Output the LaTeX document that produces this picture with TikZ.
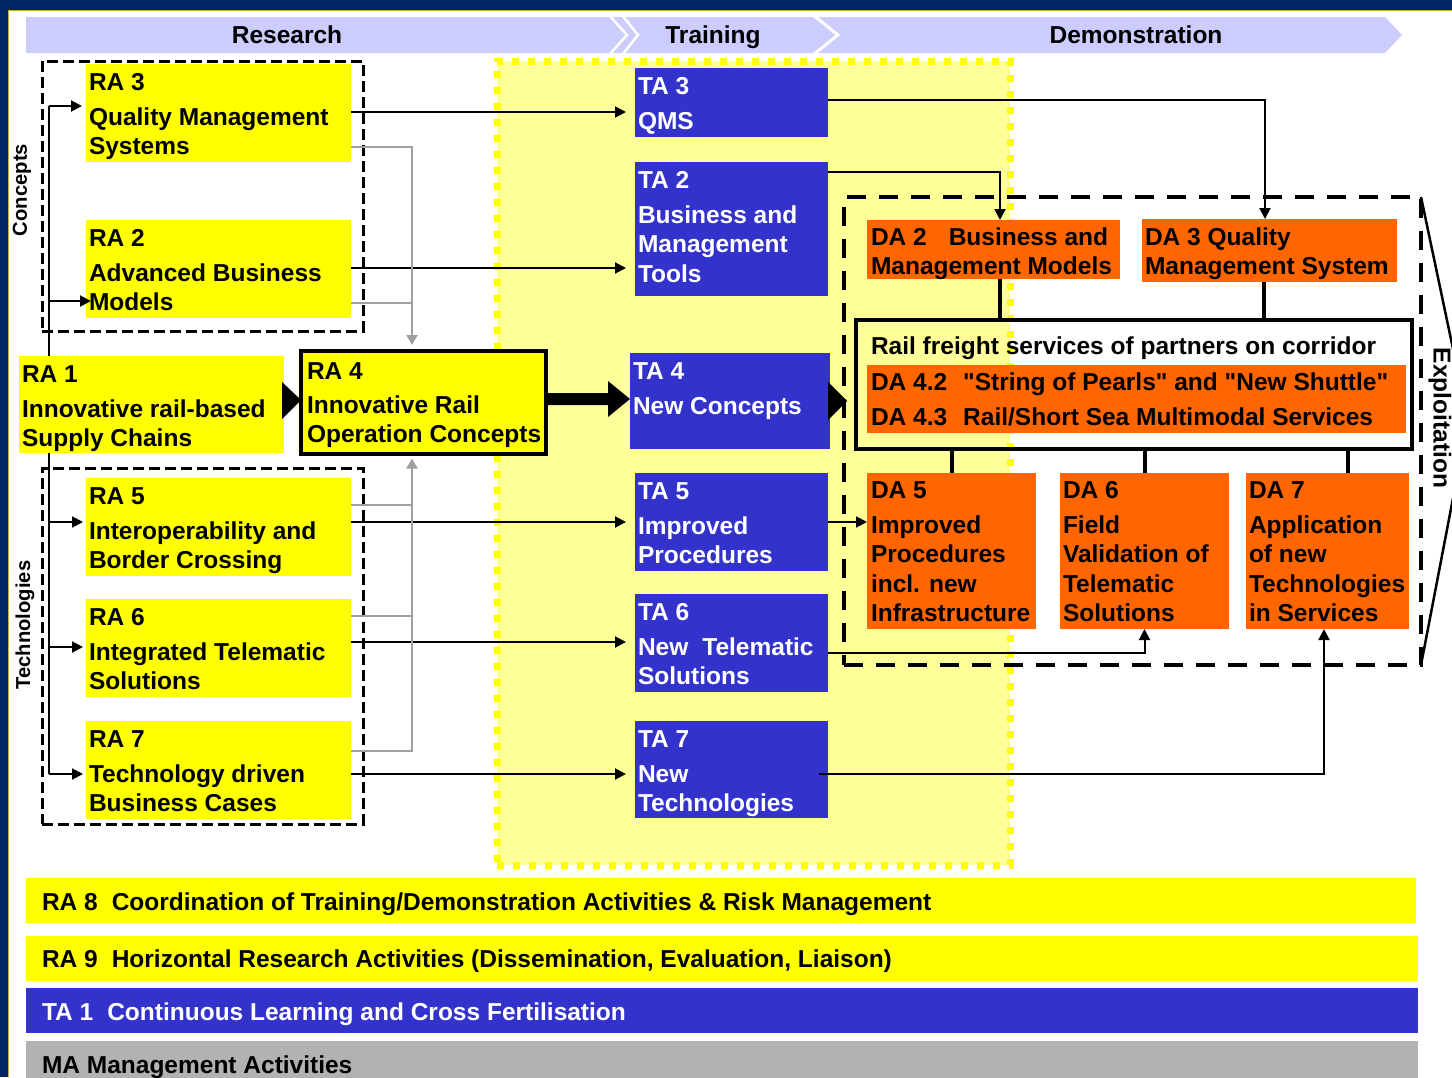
\documentclass[tikz,border=0pt]{standalone}
\usepackage{fontspec}
\setmainfont{Liberation Sans}[Ligatures=TeXOff]
\usetikzlibrary{arrows.meta,fit,calc}
\definecolor{navy}{RGB}{0,36,100}
\definecolor{goldl}{RGB}{204,170,60}
\definecolor{yel}{RGB}{255,255,0}
\definecolor{lyel}{RGB}{255,255,153}
\definecolor{tblue}{RGB}{51,51,204}
\definecolor{dorange}{RGB}{255,102,0}
\definecolor{lav}{RGB}{204,204,255}
\definecolor{mgray}{RGB}{178,178,178}
\definecolor{lgray}{RGB}{160,160,160}
\newcommand\mytf{\fontsize{24.5}{29.5}\selectfont\bfseries}
\newcommand\mysidef{\fontsize{20.2}{24}\selectfont\bfseries}
\newcommand\mytb[2]{\parbox[t]{#1pt}{\raggedright\mytf #2}}
\tikzset{
  area/.style={fit={#1}, inner sep=0pt, outer sep=0pt, rectangle},
  rbox/.style={area={#1}, fill=yel},
  tbox/.style={area={#1}, fill=tblue},
  dbox/.style={area={#1}, fill=dorange},
  tx/.style={anchor=base west, inner sep=0pt, outer sep=0pt},
  wtx/.style={tx, text=white},
  conn/.style={line width=2pt, black},
  arr/.style={conn, -{Triangle[length=11pt,width=11pt]}},
  gl/.style={line width=2pt, lgray},
  garr/.style={gl, -{Triangle[length=10pt,width=11pt]}},
  tk/.style={line width=4pt, black},
  cdash/.style={draw, line width=3pt, dash pattern=on 11pt off 5pt},
  hd/.style={anchor=base, inner sep=0pt, font=\mytf},
}
\begin{document}
\begin{tikzpicture}[x=1pt,y=-1pt]
\useasboundingbox (0,0) rectangle (1452,1077);
\clip (0,0) rectangle (1452,1077);
% frame
\fill[navy] (0,0) rectangle (1452,10);
\fill[navy] (0,0) rectangle (8,1077);
\draw[goldl, line width=1pt] (8.5,1077) -- (8.5,10.5) -- (1452,10.5);
% header band
\fill[lav] (26,17) -- (1385,17) -- (1402,35) -- (1385,53) -- (26,53) -- cycle;
\draw[white, line width=2.5pt] (609,15) -- (627,35) -- (609,55);
\draw[white, line width=2.5pt] (622,15) -- (638,35) -- (622,55);
\draw[white, line width=3pt] (813,15) -- (838,35) -- (813,55);
\node[hd] (hres) at (287,43) {Research};
\node[hd] (htra) at (713,43) {Training};
\node[hd] (hdem) at (1136,43) {Demonstration};
% training area
\node[area={(497,61) (1010,865)}, fill=lyel, draw=yel, line width=7pt, dash pattern=on 7pt off 9pt] (train) {};
% group boxes
\node[area={(42,61) (363,331)}, cdash] (conc) {};
\node[area={(42,468) (363,824)}, cdash] (tech) {};
\node[rotate=90, inner sep=0pt, font=\mysidef] (lconc) at (22,190) {Concepts};
\node[rotate=90, inner sep=0pt, font=\mysidef] (ltech) at (25,625) {Technologies};
\node[area={(844,197) (1421,665)}, draw, line width=4pt, dash pattern=on 19pt off 13pt] (demo) {};
\coordinate (apex) at (1468,420);
\draw[line width=2.5pt] (demo.north east) -- (apex) -- (demo.south east);
\node[rotate=-90, inner sep=0pt, font=\mytf] (lexp) at (1440,418) {Exploitation};
% feed line
\coordinate (fa) at (49,106);
\coordinate (f2) at (49,301);
\coordinate (f5) at (49,522);
\coordinate (f6) at (49,647);
\coordinate (fb) at (49,774);
\draw[conn] (fa) -- (fb);
% research boxes
\node[rbox={(86,64) (351,162)}] (ra3) {};
\node[rbox={(86,220) (351,318)}] (ra2) {};
\node[rbox={(19,356) (284,453)}] (ra1) {};
\node[area={(301,351) (546,454)}, fill=yel, draw=black, line width=4pt] (ra4) {};
\node[rbox={(86,478) (351,576)}] (ra5) {};
\node[rbox={(86,599) (351,697)}] (ra6) {};
\node[rbox={(86,721) (351,819)}] (ra7) {};
% training boxes
\node[tbox={(635,68) (828,137)}] (ta3) {};
\node[tbox={(635,162) (828,296)}] (ta2) {};
\node[tbox={(630,353) (830,449)}] (ta4) {};
\node[tbox={(635,473) (828,571)}] (ta5) {};
\node[tbox={(635,594) (828,692)}] (ta6) {};
\node[tbox={(635,721) (828,818)}] (ta7) {};
% demonstration boxes
\node[dbox={(867,220) (1120,279)}] (da2) {};
\node[dbox={(1142,219) (1397,282)}] (da3) {};
\node[area={(856,320) (1412,449)}, draw=black, line width=4pt] (rail) {};
\node[dbox={(867,365) (1406,433)}] (da4) {};
\node[dbox={(867,473) (1036,629)}] (da5) {};
\node[dbox={(1060,473) (1229,629)}] (da6) {};
\node[dbox={(1246,473) (1409,629)}] (da7) {};
% bottom bars
\node[rbox={(26,878) (1416,923)}] (ra8) {};
\node[rbox={(26,936) (1418,981)}] (ra9) {};
\node[tbox={(26,988) (1418,1033)}] (ta1) {};
\node[area={(26,1041) (1418,1090)}, fill=mgray] (ma) {};
% texts
\node[tx] (ra3t) at (89,90) {\mytb{260}{RA 3\\[5.5pt]Quality Management\\Systems}};
\node[tx] (ra2t) at (89,246) {\mytb{260}{RA 2\\[5.5pt]Advanced Business\\Models}};
\node[tx] (ra1t) at (22,382) {\mytb{260}{RA 1\\[5.5pt]Innovative rail-based\\Supply Chains}};
\node[tx] (ra4t) at (307,379) {\mytb{240}{RA 4\\[4.5pt]Innovative Rail\\Operation Concepts}};
\node[tx] (ra5t) at (89,504) {\mytb{260}{RA 5\\[5.5pt]Interoperability and\\Border Crossing}};
\node[tx] (ra6t) at (89,625) {\mytb{260}{RA 6\\[5.5pt]Integrated Telematic\\Solutions}};
\node[tx] (ra7t) at (89,747) {\mytb{260}{RA 7\\[5.5pt]Technology driven\\Business Cases}};
\node[wtx] (ta3t) at (638,94) {\mytb{190}{TA 3\\[5.5pt]QMS}};
\node[wtx] (ta2t) at (638,188) {\mytb{190}{TA 2\\[5.5pt]Business and\\Management\\Tools}};
\node[wtx] (ta4t) at (633,379) {\mytb{195}{TA 4\\[5.5pt]New Concepts}};
\node[wtx] (ta5t) at (638,499) {\mytb{190}{TA 5\\[5.5pt]Improved\\Procedures}};
\node[wtx] (ta6t) at (638,620) {\mytb{190}{TA 6\\[5.5pt]New\hspace{14pt}Telematic\\Solutions}};
\node[wtx] (ta7t) at (638,747) {\mytb{190}{TA 7\\[5.5pt]New\\Technologies}};
\node[tx] (da2t) at (871,245) {\mytb{260}{DA 2\hspace{22pt}Business and\\Management Models}};
\node[tx] (da3t) at (1145,245) {\mytb{260}{DA 3 Quality\\Management System}};
\node[tx, font=\mytf] (railt) at (871,354) {Rail freight services of partners on corridor};
\node[tx] (da4t) at (871,390) {\mytb{540}{DA 4.2\hspace{16pt}"String of Pearls" and "New Shuttle"\\[5.5pt]DA 4.3\hspace{16pt}Rail/Short Sea Multimodal Services}};
\node[tx] (da5t) at (871,498) {\mytb{170}{DA 5\\[5.5pt]Improved\\Procedures\\incl. new\\Infrastructure}};
\node[tx] (da6t) at (1063,498) {\mytb{170}{DA 6\\[5.5pt]Field\\Validation of\\Telematic\\Solutions}};
\node[tx] (da7t) at (1249,498) {\mytb{170}{DA 7\\[5.5pt]Application\\of new\\Technologies\\in Services}};
\node[tx, font=\mytf] (ra8t) at (42,910) {RA 8\hspace{14pt}Coordination of Training/Demonstration Activities \& Risk Management};
\node[tx, font=\mytf] (ra9t) at (42,967) {RA 9\hspace{14pt}Horizontal Research Activities (Dissemination, Evaluation, Liaison)};
\node[wtx, font=\mytf] (ta1t) at (42,1020) {TA 1\hspace{14pt}Continuous Learning and Cross Fertilisation};
\node[tx, font=\mytf] (mat) at (42,1073) {MA Management Activities};
% feed arrows
\draw[arr, shorten >=4pt] (fa) -- (fa -| ra3.west);
\draw[arr, shorten >=-5pt] (f2) -- (f2 -| ra2.west);
\draw[arr, shorten >=3pt] (f5) -- (f5 -| ra5.west);
\draw[arr, shorten >=3pt] (f6) -- (f6 -| ra6.west);
\draw[arr, shorten >=3pt] (fb) -- (fb -| ra7.west);
% research -> training
\coordinate (c3) at ([yshift=1pt]ra3.east);
\coordinate (c2) at ([yshift=1pt]ra2.east);
\coordinate (c5) at ([yshift=5pt]ra5.east);
\coordinate (c6) at ([yshift=6pt]ra6.east);
\coordinate (c7) at ([yshift=-4pt]ra7.east);
\draw[arr, shorten >=9pt] (c3) -- (c3 -| ta3.west);
\draw[arr, shorten >=9pt] (c2) -- (c2 -| ta2.west);
\draw[arr, shorten >=9pt] (c5) -- (c5 -| ta5.west);
\draw[arr, shorten >=9pt] (c6) -- (c6 -| ta6.west);
\draw[arr, shorten >=9pt] (c7) -- (c7 -| ta7.west);
% gray links to RA4
\coordinate (g3) at ([yshift=-34pt]ra3.east);
\coordinate (g2) at ([yshift=-34pt]ra2.east);
\coordinate (g5) at ([yshift=22pt]ra5.east);
\coordinate (g6) at ([yshift=32pt]ra6.east);
\coordinate (g7) at ([yshift=19pt]ra7.east);
\coordinate (gt) at (412,147);
\coordinate (gb) at (412,751);
\draw[gl] (g2) -- (g2 -| gt);
\draw[garr, shorten >=6pt] (g3) -- (gt) -- (gt |- ra4.north);
\draw[gl] (g5) -- (g5 -| gb);
\draw[gl] (g6) -- (g6 -| gb);
\draw[garr, shorten >=4.5pt] (g7) -- (gb) -- (gb |- ra4.south);
% training -> demonstration
\coordinate (t3) at ([yshift=2.5pt]ta3.east);
\coordinate (t2) at ([yshift=57pt]ta2.east);
\coordinate (t6) at ([yshift=-10pt]ta6.east);
\coordinate (t7) at ([xshift=-9pt,yshift=-4.5pt]ta7.east);
\draw[arr] (t3) -| ([xshift=-4.5pt]da3.north);
\draw[arr] (t2) -| ([xshift=6.5pt]da2.north);
\draw[arr] (ta5.east) -- (ta5.east -| da5.west);
\draw[arr] (t6) -| (da6.south);
\draw[arr] (t7) -| ([xshift=-3.5pt]da7.south);
% demo internal links
\coordinate (k2) at ([xshift=6.5pt]da2.south);
\coordinate (k3) at ([xshift=-5.5pt]da3.south);
\coordinate (k7) at ([xshift=20.5pt]da7.north);
\draw[tk] (k2) -- (k2 |- rail.north);
\draw[tk] (k3) -- (k3 |- rail.north);
\draw[tk] (da5.north |- rail.south) -- (da5.north);
\draw[tk] (da6.north |- rail.south) -- (da6.north);
\draw[tk] (k7 |- rail.south) -- (k7);
% big arrows
\fill[black] ([yshift=2.5pt]ra4.west) -- ++(-19,-18) -- ++(0,37) -- cycle;
\fill[black] ([yshift=2pt]ta4.west) -- ++(-22,-18) -- ++(0,12) -- ++(-60,0) -- ++(0,12) -- ++(60,0) -- ++(0,12) -- cycle;
\fill[black] ([xshift=17pt]ta4.east) -- ++(-19,-19) -- ++(0,38) -- cycle;
\end{tikzpicture}
\end{document}
